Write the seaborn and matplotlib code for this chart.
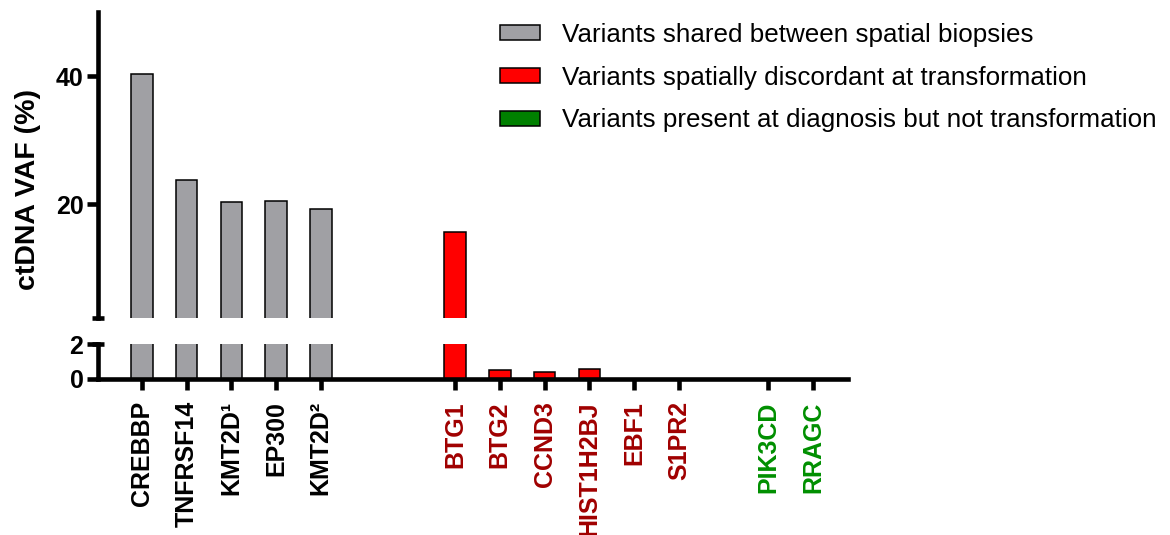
import matplotlib
matplotlib.use("Agg")
import matplotlib.pyplot as plt
import seaborn as sns
import pandas as pd
from matplotlib.patches import Patch

# ---------------- data ----------------
genes = ["CREBBP", "TNFRSF14", "KMT2D\u00b9", "EP300", "KMT2D\u00b2",
         "BTG1", "BTG2", "CCND3", "HIST1H2BJ", "EBF1", "S1PR2",
         "PIK3CD", "RRAGC"]
vaf = [40.3, 23.75, 20.3, 20.4, 19.2,
       15.7, 0.5, 0.38, 0.55, 0.0, 0.0,
       0.0, 0.0]
group = ["shared"] * 5 + ["discordant"] * 6 + ["absent"] * 2
group_order = ["shared", "discordant", "absent"]
group_labels = ["Variants shared between spatial biopsies",
                "Variants spatially discordant at transformation",
                "Variants present at diagnosis but not transformation"]
ylabel = "ctDNA VAF (%)"
upper_ticks = [20, 40]
lower_ticks = [0, 2]

# ---------------- style ----------------
bar_colors = {"shared": "#A0A0A4", "discordant": "#FF0000", "absent": "#008000"}
label_colors = {"shared": "#000000", "discordant": "#A00000", "absent": "#008F00"}
gap_before = {"shared": 0, "discordant": 2, "absent": 1}   # empty slots before a group

sns.set_theme(style="white")
plt.rcParams["font.family"] = ["Liberation Sans", "DejaVu Sans"]
plt.rcParams["text.color"] = "black"
plt.rcParams["axes.labelcolor"] = "black"
plt.rcParams["xtick.color"] = "black"
plt.rcParams["ytick.color"] = "black"

# slot positions with gaps between groups
pos = []
p = -1
prev = None
for g in group:
    p += 1
    if g != prev:
        p += gap_before[g]
        prev = g
    pos.append(p)

df = pd.DataFrame({"gene": genes, "vaf": vaf, "group": group, "pos": pos})

W, H = 1170, 535
fig = plt.figure(figsize=(W / 100, H / 100), dpi=100)
L = 98 / W
AW = 750 / W
ax_top = fig.add_axes([L, 1 - 318 / H, AW, (318 - 12) / H])
ax_bot = fig.add_axes([L, 1 - 379 / H, AW, 35 / H])

LW = 3.3
for ax in (ax_top, ax_bot):
    sns.barplot(data=df, x="pos", y="vaf", hue="group", hue_order=group_order,
                palette=bar_colors, saturation=1, native_scale=True, dodge=False,
                width=0.48, errorbar=None, edgecolor="black", linewidth=1.1,
                legend=False, ax=ax)
    ax.set_xlim(-0.98, 15.78)
    ax.set_xlabel("")
    ax.set_ylabel("")
    for s in ("top", "right"):
        ax.spines[s].set_visible(False)
    ax.spines["left"].set_linewidth(LW)
    ax.spines["left"].set_color("black")
    ax.tick_params(axis="y", which="both", left=True, length=8, width=LW,
                   labelsize=18, pad=2.5, colors="black")
    ax.set_facecolor("none")

ax_top.set_ylim(2.2, 50)
ax_top.set_yticks(upper_ticks)
ax_top.set_yticklabels([str(v) for v in upper_ticks], fontweight="bold", fontsize=18)
ax_top.spines["bottom"].set_visible(False)
ax_top.tick_params(axis="x", bottom=False, labelbottom=False)

ax_bot.set_ylim(0, 2)
ax_bot.set_yticks(lower_ticks)
ax_bot.set_yticklabels([str(v) for v in lower_ticks], fontweight="bold", fontsize=18)
ax_bot.spines["bottom"].set_linewidth(LW)
ax_bot.spines["bottom"].set_color("black")
ax_bot.set_xticks(pos)
ax_bot.set_xticklabels(genes, rotation=90, fontweight="bold", fontsize=18)
ax_bot.tick_params(axis="x", bottom=True, length=8, width=LW, pad=8, color="black")
for t, g in zip(ax_bot.get_xticklabels(), group):
    t.set_color(label_colors[g])

# axis-break caps
cap = 6 / 750
ax_top.plot([-cap, cap], [0, 0], transform=ax_top.transAxes, color="black",
            lw=LW, clip_on=False, solid_capstyle="butt")
ax_bot.plot([-cap, cap], [1, 1], transform=ax_bot.transAxes, color="black",
            lw=LW, clip_on=False, solid_capstyle="butt")

fig.text(28 / W, 1 - 190 / H, ylabel, rotation=90, ha="center", va="center",
         fontsize=20.5, fontweight="bold", color="black")

handles = [Patch(facecolor=bar_colors[g], edgecolor="black", linewidth=1.1)
           for g in group_order]
leg = fig.legend(handles, group_labels, loc="upper left",
                 bbox_to_anchor=(500 / W, 1 - 23 / H), frameon=False, fontsize=18.7,
                 handlelength=1.55, handleheight=0.5, handletextpad=0.85,
                 labelspacing=0.72, borderpad=0, borderaxespad=0)
for t in leg.get_texts():
    t.set_color("black")

fig.savefig("out.png", dpi=100)
